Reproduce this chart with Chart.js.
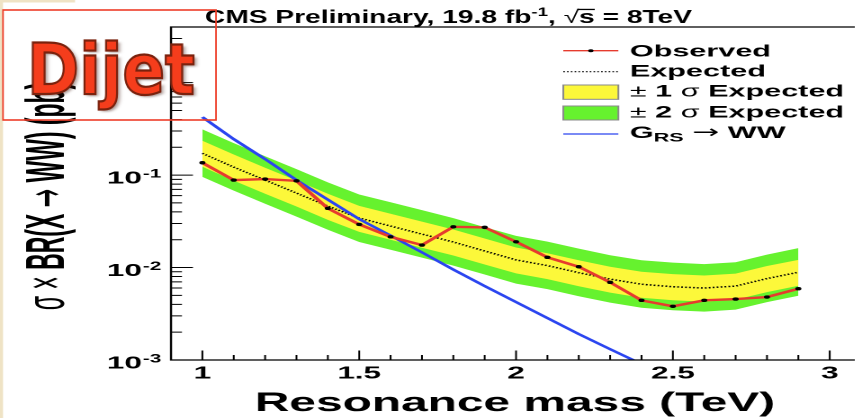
<!DOCTYPE html>
<html>
<head>
<meta charset="utf-8">
<title>CMS Preliminary - WW resonance limit</title>
<script src="https://cdn.jsdelivr.net/npm/chart.js@4.4.1/dist/chart.umd.min.js"></script>
<style>
  html, body { margin: 0; padding: 0; background: #fff; overflow: hidden; }
  /* the reference picture is stretched sideways, so is this page */
  #chart { display: block; transform: scaleX(1.79958); transform-origin: 0 0; }
</style>
</head>
<body>
<canvas id="chart" width="479" height="418"></canvas>
<script>
// resonance masses (TeV)
var masses = [1.0, 1.1, 1.2, 1.3, 1.4, 1.5, 1.6, 1.7, 1.8, 1.9, 2.0, 2.1, 2.2, 2.3, 2.4, 2.5, 2.6, 2.7, 2.8, 2.9];

// 95% CL limits on sigma x BR (pb)
var observed = [0.136, 0.0883, 0.0906, 0.0867, 0.0437, 0.0293, 0.0215, 0.0175, 0.0276, 0.0272,
                0.0190, 0.0129, 0.0102, 0.00692, 0.00442, 0.00381, 0.00442, 0.00456, 0.00480, 0.00590];
var expected = [0.172, 0.122, 0.0883, 0.0639, 0.0462, 0.0343, 0.0281, 0.0230, 0.0189, 0.0151,
                0.0121, 0.0105, 0.0088, 0.0075, 0.0066, 0.0062, 0.0060, 0.0063, 0.0076, 0.0089];
var band1Up = [0.235, 0.167, 0.120, 0.0874, 0.0628, 0.0464, 0.0382, 0.0314, 0.0258, 0.0206,
               0.0165, 0.0143, 0.0120, 0.0102, 0.0090, 0.0085, 0.0082, 0.0086, 0.0104, 0.0121];
var band1Down = [0.123, 0.0871, 0.0628, 0.0457, 0.0328, 0.0243, 0.0200, 0.0164, 0.0135, 0.0108,
                 0.00864, 0.0075, 0.00628, 0.00536, 0.00471, 0.00443, 0.00428, 0.0045, 0.00543, 0.00635];
var band2Up = [0.312, 0.222, 0.160, 0.116, 0.0835, 0.0617, 0.0508, 0.0418, 0.0343, 0.0274,
               0.0220, 0.0191, 0.0160, 0.0136, 0.0120, 0.0113, 0.0109, 0.0114, 0.0138, 0.0162];
var band2Down = [0.0958, 0.068, 0.049, 0.0356, 0.0256, 0.0189, 0.0156, 0.0128, 0.0105, 0.0084,
                 0.0067, 0.00585, 0.0049, 0.00418, 0.00368, 0.00345, 0.00334, 0.00351, 0.00423, 0.00496];

// bulk graviton G_RS -> WW prediction (masses 1.0 .. 2.4)
var gravitonWW = [0.424, 0.245, 0.149, 0.0883, 0.0543, 0.0334, 0.0222, 0.0146, 0.00951, 0.00631,
                  0.00424, 0.00284, 0.00191, 0.00131, 0.000905];

// axis labels
var xTickValues = [1, 1.5, 2, 2.5, 3];
var xTickLabels = ['1', '1.5', '2', '2.5', '3'];
var yTickValues = [0.001, 0.01, 0.1];
var yTickExps = ['-3', '-2', '-1'];

var SX = 862 / 479;
var FACE = '"Liberation Sans", Arial, Helvetica, sans-serif';
var SYM = '"DejaVu Sans", sans-serif';
var RED = '#e63b2e', BLUE = '#2b45f0', YELLOW = '#fcf83a', GREEN = '#66f22e';

function font(size, bold) {
  return (bold ? 'bold ' : '') + size + 'px ' + FACE;
}

function pts(vals) {
  return vals.map(function (v, i) { return {x: masses[i], y: v}; });
}

function runsWidth(ctx, parts) {
  var w = 0;
  for (var i = 0; i < parts.length; i++) {
    ctx.font = parts[i][1];
    w += ctx.measureText(parts[i][0]).width;
  }
  return w;
}

// draws pieces of text one after the other, returns start x of each piece
function drawRuns(ctx, parts, x, y, align) {
  var w = runsWidth(ctx, parts);
  var cx = align === 'center' ? x - w / 2 : (align === 'right' ? x - w : x);
  var starts = [];
  ctx.textAlign = 'left';
  ctx.textBaseline = 'alphabetic';
  for (var i = 0; i < parts.length; i++) {
    ctx.font = parts[i][1];
    starts.push(cx);
    ctx.fillText(parts[i][0], cx, y + (parts[i][2] || 0));
    cx += ctx.measureText(parts[i][0]).width;
  }
  starts.push(cx);
  return starts;
}

var cmsDecor = {
  id: 'cmsDecor',
  beforeDraw: function (chart) {
    var ctx = chart.ctx;
    ctx.save();
    ctx.fillStyle = '#fff';
    ctx.fillRect(0, 0, chart.width, chart.height);
    // slide background peeking at the left edge
    ctx.fillStyle = '#efe3c5';
    ctx.fillRect(0, 0, 3 / SX, chart.height);
    ctx.fillRect(0, 0, 75 / SX, 2.5);
    ctx.restore();
  },
  afterDraw: function (chart) {
    var ctx = chart.ctx, a = chart.chartArea;
    var xs = chart.scales.x, ys = chart.scales.y;
    var i, k, e, d, p, v;
    ctx.save();

    // frame
    ctx.strokeStyle = '#000';
    ctx.lineWidth = 1.2;
    ctx.beginPath();
    ctx.moveTo(a.right, a.top);
    ctx.lineTo(a.left, a.top);
    ctx.lineTo(a.left, a.bottom);
    ctx.lineTo(a.right, a.bottom);
    ctx.stroke();

    // ticks pointing inwards
    ctx.lineWidth = 1;
    ctx.beginPath();
    for (k = 9; k <= 31; k++) {
      p = xs.getPixelForValue(k / 10);
      if (p <= a.left + 0.5 || p >= a.right) continue;
      ctx.moveTo(p, a.bottom);
      ctx.lineTo(p, a.bottom - (k % 5 === 0 ? 9.5 : 5));
    }
    for (e = -3; e <= 0; e++) {
      for (d = 1; d <= 9; d++) {
        v = d * Math.pow(10, e);
        p = ys.getPixelForValue(v);
        if (p >= a.bottom - 0.5 || p <= a.top + 0.5) continue;
        ctx.moveTo(a.left, p);
        ctx.lineTo(a.left + (d === 1 ? 12.2 : 6.1), p);
      }
    }
    ctx.stroke();

    ctx.fillStyle = '#000';
    // x tick labels
    for (i = 0; i < xTickValues.length; i++) {
      ctx.font = font(17.5, true);
      ctx.textAlign = 'center';
      ctx.fillText(xTickLabels[i], xs.getPixelForValue(xTickValues[i]), 378.5);
    }
    // y tick labels 10^n
    for (i = 0; i < yTickValues.length; i++) {
      p = ys.getPixelForValue(yTickValues[i]);
      ctx.font = font(17.5, true);
      ctx.textAlign = 'right';
      ctx.fillText('10', 78.9, p + 8.3);
      ctx.font = font(11.5, true);
      ctx.textAlign = 'left';
      ctx.fillText(yTickExps[i], 79.4, p + 2.5);
    }

    // axis titles
    ctx.font = font(26.6, true);
    ctx.textAlign = 'center';
    ctx.fillText('Resonance mass (TeV)', 515 / SX, 411);

    ctx.save();
    ctx.translate(35.5, 196);
    ctx.rotate(-Math.PI / 2);
    ctx.scale(0.74, 1);
    drawRuns(ctx, [
      ['\u03C3', font(31, false)],
      [' ', font(31, true)],
      ['\u00D7', font(31, false)],
      [' BR(X ', font(31, true)],
      ['\u2192', '30px ' + SYM],
      [' WW) (pb)', font(31, true)]
    ], 0, 0, 'center');
    ctx.restore();

    // title
    var tParts = [
      ['CMS Preliminary, 19.8 fb', font(18, true), 0],
      ['-1', font(12, true), -7],
      [', ', font(18, true), 0],
      ['\u221A', font(18, false), 0],
      ['s', font(18, true), 0],
      [' = 8TeV', font(18, true), 0]
    ];
    var tw = runsWidth(ctx, tParts);
    ctx.save();
    ctx.translate(205 / SX, 23);
    ctx.scale((487 / SX) / tw, 1);
    var st = drawRuns(ctx, tParts, 0, 0, 'left');
    ctx.fillRect(st[4] - 0.5, -14.2, st[5] - st[4] + 0.5, 1.3);
    ctx.restore();

    // legend
    var lx0 = 313, lx1 = 343.6, tx = 350;
    ctx.lineWidth = 1.3;
    ctx.strokeStyle = RED;
    ctx.beginPath(); ctx.moveTo(lx0, 50.7); ctx.lineTo(lx1, 50.7); ctx.stroke();
    ctx.fillStyle = '#000';
    ctx.beginPath(); ctx.arc((lx0 + lx1) / 2, 50.7, 1.5, 0, Math.PI * 2); ctx.fill();
    drawRuns(ctx, [['Observed', font(17, true)]], tx, 56.7, 'left');

    ctx.strokeStyle = '#000';
    ctx.lineWidth = 1.1;
    ctx.setLineDash([0.9, 1.2]);
    ctx.beginPath(); ctx.moveTo(lx0, 71.7); ctx.lineTo(lx1, 71.7); ctx.stroke();
    ctx.setLineDash([]);
    drawRuns(ctx, [['Expected', font(17, true)]], tx, 76.7, 'left');

    ctx.lineWidth = 1;
    ctx.strokeStyle = '#8a8a8a';
    ctx.fillStyle = YELLOW;
    ctx.fillRect(lx0, 85, lx1 - lx0, 14.3);
    ctx.strokeRect(lx0, 85, lx1 - lx0, 14.3);
    ctx.fillStyle = GREEN;
    ctx.fillRect(lx0, 106, lx1 - lx0, 14);
    ctx.strokeRect(lx0, 106, lx1 - lx0, 14);
    ctx.fillStyle = '#000';
    drawRuns(ctx, [['\u00B1', font(17, false)], [' 1 ', font(17, true)], ['\u03C3', font(17, false)], [' Expected', font(17, true)]], tx, 96.7, 'left');
    drawRuns(ctx, [['\u00B1', font(17, false)], [' 2 ', font(17, true)], ['\u03C3', font(17, false)], [' Expected', font(17, true)]], tx, 117.7, 'left');

    ctx.strokeStyle = BLUE;
    ctx.lineWidth = 1.3;
    ctx.beginPath(); ctx.moveTo(lx0, 134); ctx.lineTo(lx1, 134); ctx.stroke();
    drawRuns(ctx, [['G', font(17, true), 0], ['RS', font(12, true), 3.7], [' ', font(17, true), 0],
                   ['\u2192', '18px ' + SYM, 0], [' WW', font(17, true), 0]], tx, 138, 'left');

    // "Dijet" slide label, not stretched
    ctx.save();
    ctx.scale(1 / SX, 1);
    ctx.strokeStyle = '#ee3d28';
    ctx.lineWidth = 1.6;
    ctx.strokeRect(3, 10, 213, 110);
    ctx.font = 'bold 70px "DejaVu Sans", Verdana, sans-serif';
    ctx.textAlign = 'left';
    var dw = ctx.measureText('Dijet').width;
    ctx.translate(27, 94);
    ctx.scale(168 / dw, 1);
    ctx.shadowColor = 'rgba(60,20,10,0.45)';
    ctx.shadowOffsetX = 3;
    ctx.shadowOffsetY = 4;
    ctx.shadowBlur = 4;
    ctx.fillStyle = '#f53d1c';
    ctx.fillText('Dijet', 0, 0);
    ctx.shadowColor = 'rgba(0,0,0,0)';
    ctx.lineWidth = 2.2;
    ctx.strokeStyle = '#7a220e';
    ctx.strokeText('Dijet', 0, 0);
    ctx.restore();

    ctx.restore();
  }
};

var hidden = 'rgba(0,0,0,0)';

// Chart.js paints the last dataset first, so the bands come last here
new Chart(document.getElementById('chart'), {
  type: 'line',
  data: {
    datasets: [
      {label: 'Observed', data: pts(observed), fill: false, borderColor: RED, borderWidth: 2.4,
       pointRadius: 1.7, pointBackgroundColor: '#000', pointBorderWidth: 0},
      {label: 'G_RS -> WW', data: pts(gravitonWW), fill: false, borderColor: BLUE,
       borderWidth: 2.2, pointRadius: 0},
      {label: 'Expected', data: pts(expected), fill: false, borderColor: '#000',
       borderWidth: 1.5, borderDash: [1, 1.2], pointRadius: 0},
      {label: '+1 sigma', data: pts(band1Up), fill: '+1', backgroundColor: YELLOW,
       borderColor: hidden, borderWidth: 0, pointRadius: 0},
      {label: '-1 sigma', data: pts(band1Down), fill: false,
       borderColor: hidden, borderWidth: 0, pointRadius: 0},
      {label: '+2 sigma', data: pts(band2Up), fill: '+1', backgroundColor: GREEN,
       borderColor: hidden, borderWidth: 0, pointRadius: 0},
      {label: '-2 sigma', data: pts(band2Down), fill: false,
       borderColor: hidden, borderWidth: 0, pointRadius: 0}
    ]
  },
  options: {
    responsive: false,
    devicePixelRatio: 2,
    animation: false,
    events: [],
    layout: {padding: {left: 171 / SX, top: 27, right: 0, bottom: 58}},
    elements: {line: {tension: 0}},
    scales: {
      x: {type: 'linear', min: 0.9, max: 3.08, display: false},
      y: {type: 'logarithmic', min: 0.001, max: 4, display: false}
    },
    plugins: {
      legend: {display: false},
      tooltip: {enabled: false}
    }
  },
  plugins: [cmsDecor]
});
</script>
</body>
</html>
